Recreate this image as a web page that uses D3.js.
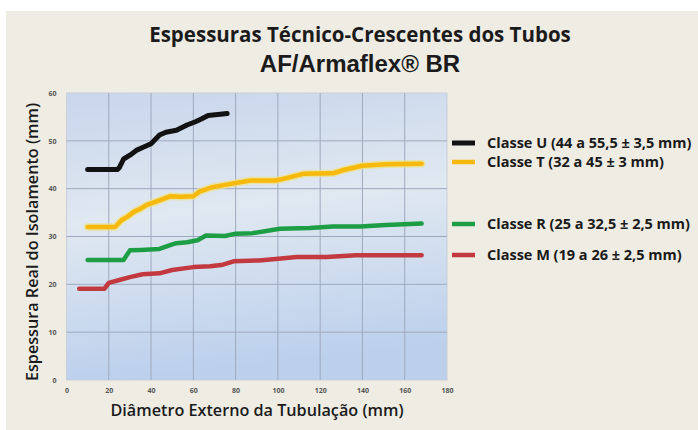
<!DOCTYPE html>
<html><head><meta charset="utf-8">
<script src="https://cdn.jsdelivr.net/npm/d3@7"></script>
<style>
html,body{margin:0;padding:0;background:#fff;}
svg{display:block;}
</style></head>
<body>
<script>
const title1 = "Espessuras Técnico-Crescentes dos Tubos";
const title2 = "AF/Armaflex® BR";
const xTitle = "Diâmetro Externo da Tubulação (mm)";
const yTitle = "Espessura Real do Isolamento (mm)";
const xTicks = [0,20,40,60,80,100,120,140,160,180];
const yTicks = [0,10,20,30,40,50,60];

const seriesNames = ["Classe U (44 a 55,5 ± 3,5 mm)","Classe T (32 a 45 ± 3 mm)","Classe R (25 a 32,5 ± 2,5 mm)","Classe M (19 a 26 ± 2,5 mm)"];
const seriesColors = ["#121212","#f6b90c","#1d9e45","#c23a3f"];

const classeU = [[10,44],[24,44],[25,44.4],[27,46.2],[30,47],[33,48],[36,48.6],[40,49.4],[44,51.2],[47,51.8],[52,52.2],[57,53.3],[61,54],[64,54.6],[67,55.3],[76,55.7]];
const classeT = [[10,32],[23,32],[26,33.4],[29,34.2],[32,35.2],[35,35.8],[38,36.6],[43,37.4],[49,38.4],[54,38.3],[60,38.4],[63,39.4],[69,40.3],[75,40.8],[79,41.1],[87,41.7],[99,41.7],[104,42.2],[112,43.1],[126,43.2],[131,43.9],[140,44.8],[151,45.1],[168,45.2]];
const classeR = [[10,25.1],[27,25.1],[30,27.1],[35,27.2],[44,27.4],[49,28.2],[52,28.6],[57,28.8],[62,29.2],[66,30.2],[75,30.1],[80,30.6],[88,30.7],[101,31.6],[115,31.8],[126,32.1],[139,32.1],[151,32.4],[168,32.7]];
const classeM = [[6,19.1],[18,19.1],[20,20.3],[25,20.9],[30,21.5],[36,22.1],[44,22.3],[50,23],[60,23.6],[68,23.8],[74,24.1],[79,24.8],[91,25],[99,25.3],[109,25.7],[123,25.7],[137,26.1],[168,26.1]];
const seriesData = [classeU, classeT, classeR, classeM];

const W = 698, H = 430;
const svg = d3.select("body").append("svg").attr("width",W).attr("height",H);

svg.append("rect").attr("x",0).attr("y",0).attr("width",W).attr("height",H).attr("fill","#ffffff");
svg.append("rect").attr("x",6).attr("y",11).attr("width",W-6).attr("height",H-11).attr("fill","#eeece3");

const x = d3.scaleLinear().domain([0,180]).range([66.5,447]);
const y = d3.scaleLinear().domain([0,60]).range([380,93]);

const defs = svg.append("defs");
const grad = defs.append("linearGradient").attr("id","bg").attr("x1",0).attr("y1",0).attr("x2",0.15).attr("y2",1);
grad.append("stop").attr("offset","0%").attr("stop-color","#c8d5eb");
grad.append("stop").attr("offset","45%").attr("stop-color","#e0e8f1");
grad.append("stop").attr("offset","100%").attr("stop-color","#bcd0ec");

svg.append("rect").attr("x",x(0)).attr("y",y(60)).attr("width",x(180)-x(0)).attr("height",y(0)-y(60))
  .attr("fill","url(#bg)").attr("stroke","#c9cfd8").attr("stroke-width",1);

const g = svg.append("g");
g.selectAll(".vg").data(xTicks.slice(1,-1)).join("line")
  .attr("x1",d=>x(d)).attr("x2",d=>x(d)).attr("y1",y(60)).attr("y2",y(0))
  .attr("stroke","#9ea9bd").attr("stroke-width",1);
g.selectAll(".hg").data(yTicks.slice(1,-1)).join("line")
  .attr("y1",d=>y(d)).attr("y2",d=>y(d)).attr("x1",x(0)).attr("x2",x(180))
  .attr("stroke","#9ea9bd").attr("stroke-width",1);

const xAxis = d3.axisBottom(x).tickValues(xTicks).tickSize(0).tickPadding(8);
const yAxis = d3.axisLeft(y).tickValues(yTicks).tickSize(0).tickPadding(10);
const xa = svg.append("g").attr("transform",`translate(0,${y(0)})`).call(xAxis);
const ya = svg.append("g").attr("transform",`translate(${x(0)},0)`).call(yAxis);
[xa,ya].forEach(a=>{
  a.select(".domain").remove();
  a.selectAll("text").attr("font-family","'Open Sans', sans-serif").attr("font-weight","bold")
   .attr("font-size",7).attr("fill","#555");
});

const line = d3.line().x(d=>x(d[0])).y(d=>y(d[1])).curve(d3.curveLinear);
seriesData.forEach((data,i)=>{
  if (i===1) {
    svg.append("path").datum(data).attr("d",line).attr("fill","none")
      .attr("stroke","#f0e27a").attr("stroke-width",7.5).attr("stroke-opacity",0.65)
      .attr("stroke-linejoin","round").attr("stroke-linecap","round");
  }
  svg.append("path").datum(data).attr("d",line).attr("fill","none")
    .attr("stroke",seriesColors[i]).attr("stroke-width",i===0?5:4.5)
    .attr("stroke-linejoin","round").attr("stroke-linecap","round");
});

const legY = [143,162,224,255];
const leg = svg.append("g");
seriesNames.forEach((n,i)=>{
  leg.append("line").attr("x1",452).attr("x2",475).attr("y1",legY[i]).attr("y2",legY[i])
    .attr("stroke",seriesColors[i]).attr("stroke-width",i===0?5:4.5);
  leg.append("text").attr("x",487).attr("y",legY[i]).attr("dy","0.35em")
    .attr("font-family","'Open Sans', sans-serif").attr("font-weight","bold").attr("font-size",14.5)
    .attr("fill","#1a1a1a").text(n);
});

svg.append("text").attr("x",360).attr("y",42).attr("text-anchor","middle")
  .attr("font-family","'Open Sans', sans-serif").attr("font-weight","bold").attr("font-size",20.5)
  .attr("fill","#1b1b1b").text(title1);
svg.append("text").attr("x",360).attr("y",72).attr("text-anchor","middle")
  .attr("font-family","'Liberation Sans', Arial, sans-serif").attr("font-weight","bold").attr("font-size",24)
  .attr("fill","#1b1b1b").text(title2);

svg.append("text").attr("x",257).attr("y",416).attr("text-anchor","middle")
  .attr("font-family","'Open Sans', sans-serif").attr("font-weight","600").attr("font-size",16.2)
  .attr("fill","#1b1b1b").text(xTitle);
svg.append("text").attr("transform","translate(38,242) rotate(-90)").attr("text-anchor","middle")
  .attr("font-family","'Open Sans', sans-serif").attr("font-weight","600").attr("font-size",16.2)
  .attr("fill","#1b1b1b").text(yTitle);
</script>
</body></html>
